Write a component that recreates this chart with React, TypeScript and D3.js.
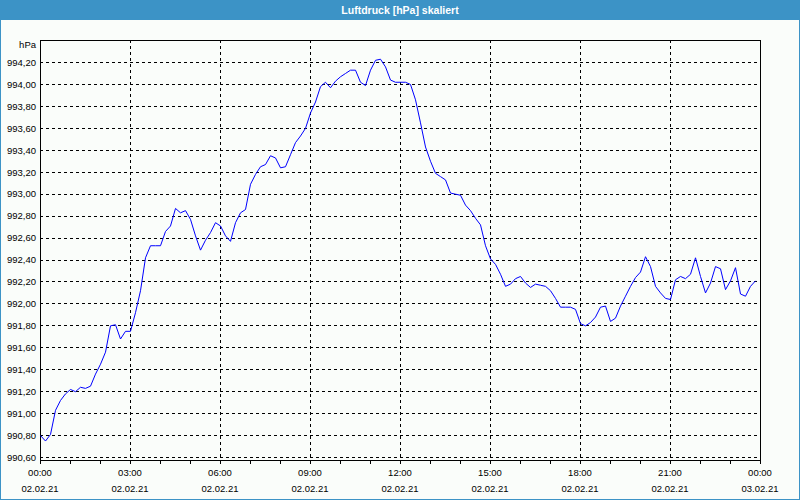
import React from "react";
import * as d3 from "d3";

const title = "Luftdruck [hPa] skaliert";
const unitLabel = "hPa";
const stepMinutes = 10;
// Luftdruck in hPa, one value per 10 minutes starting 02.02.21 00:00
const pressure = [
  990.80, 990.75, 990.81, 991.03, 991.12, 991.18, 991.22, 991.20, 991.24, 991.23,
  991.25, 991.36, 991.45, 991.56, 991.80, 991.81, 991.68, 991.75, 991.75, 991.92,
  992.12, 992.42, 992.53, 992.53, 992.53, 992.66, 992.71, 992.87, 992.83, 992.85,
  992.77, 992.62, 992.49, 992.58, 992.65, 992.74, 992.71, 992.62, 992.57, 992.74,
  992.83, 992.86, 993.09, 993.18, 993.25, 993.27, 993.35, 993.33, 993.24, 993.25,
  993.36, 993.47, 993.53, 993.60, 993.74, 993.84, 993.98, 994.02, 993.97, 994.03,
  994.07, 994.10, 994.13, 994.13, 994.02, 993.99, 994.13, 994.22, 994.23, 994.16,
  994.04, 994.02, 994.02, 994.02, 994.00, 993.86, 993.65, 993.43, 993.30, 993.19,
  993.16, 993.13, 993.01, 993.00, 992.99, 992.90, 992.85, 992.78, 992.72, 992.53,
  992.41, 992.36, 992.27, 992.16, 992.18, 992.23, 992.25, 992.19, 992.15, 992.18,
  992.17, 992.16, 992.12, 992.05, 991.97, 991.97, 991.97, 991.95, 991.82, 991.80,
  991.83, 991.88, 991.97, 991.98, 991.84, 991.87, 991.98, 992.07, 992.16, 992.24,
  992.29, 992.43, 992.34, 992.16, 992.10, 992.05, 992.04, 992.22, 992.25, 992.23,
  992.27, 992.42, 992.25, 992.10, 992.19, 992.34, 992.32, 992.13, 992.21, 992.33,
  992.09, 992.07, 992.16, 992.21,
];
const yTicks = [
  990.6, 990.8, 991.0, 991.2, 991.4, 991.6, 991.8, 992.0, 992.2, 992.4,
  992.6, 992.8, 993.0, 993.2, 993.4, 993.6, 993.8, 994.0, 994.2,
];
const xTickHours = [0, 3, 6, 9, 12, 15, 18, 21, 24];
const xTimeLabels = ["00:00", "03:00", "06:00", "09:00", "12:00", "15:00", "18:00", "21:00", "00:00"];
const xDateLabels = ["02.02.21", "02.02.21", "02.02.21", "02.02.21", "02.02.21", "02.02.21", "02.02.21", "02.02.21", "03.02.21"];
const minorHours = d3.range(0, 25);

const W = 800;
const H = 500;
const plotLeft = 40;
const plotRight = 760;
const plotTop = 40;
const plotBottom = 460;
const font = "'Liberation Sans', Arial, sans-serif";
const frameBlue = "#3c93c6";

export default function App() {
  const x = d3.scaleLinear().domain([0, 24]).range([plotLeft, plotRight]);
  const y = d3.scaleLinear().domain([990.6, 994.2]).range([457, 62]);
  const px = (v: number) => Math.round(v) + 0.5;

  const line = d3
    .line<number>()
    .x((_, i) => x((i * stepMinutes) / 60) + 0.5)
    .y((d) => y(d) + 0.5);

  const fmt = (v: number) => v.toFixed(2).replace(".", ",");

  return (
    <svg
      width={W}
      height={H}
      style={{ position: "absolute", left: 0, top: 0, background: "#fafdfa" }}
      fontFamily={font}
    >
      <rect x={0} y={0} width={W} height={H} fill="#fafdfa" />
      {/* title bar */}
      <rect x={0} y={0} width={W} height={20} fill={frameBlue} />
      <text x={W / 2} y={10} dy="0.36em" textAnchor="middle" fill="#ffffff" fontWeight="bold" fontSize={10.5}>
        {title}
      </text>
      {/* outer border */}
      <rect x={0} y={19} width={1} height={H - 19} fill={frameBlue} />
      <rect x={W - 1} y={19} width={1} height={H - 19} fill={frameBlue} />
      <rect x={0} y={H - 1} width={W} height={1} fill={frameBlue} />

      {/* horizontal grid */}
      {yTicks.map((t) => (
        <line
          key={"hg" + t}
          x1={plotLeft}
          x2={plotRight}
          y1={px(y(t))}
          y2={px(y(t))}
          stroke="#000"
          strokeWidth={1}
          strokeDasharray="3,3"
          shapeRendering="crispEdges"
        />
      ))}
      {/* vertical grid */}
      {xTickHours.slice(1, -1).map((h) => (
        <line
          key={"vg" + h}
          x1={px(x(h))}
          x2={px(x(h))}
          y1={plotTop}
          y2={plotBottom}
          stroke="#000"
          strokeWidth={1}
          strokeDasharray="3,3"
          shapeRendering="crispEdges"
        />
      ))}
      {/* frame */}
      <path
        d={`M${px(plotLeft)},${px(plotBottom)}V${px(plotTop)}H${px(plotRight)}V${px(plotBottom)}Z`}
        fill="none"
        stroke="#000"
        strokeWidth={1}
        shapeRendering="crispEdges"
      />
      {/* minor ticks */}
      {minorHours.map((h) => (
        <line
          key={"mt" + h}
          x1={px(x(h))}
          x2={px(x(h))}
          y1={plotBottom}
          y2={plotBottom + 4}
          stroke="#000"
          shapeRendering="crispEdges"
        />
      ))}
      {/* y labels */}
      {yTicks.map((t) => (
        <text key={"yl" + t} x={36} y={y(t) + 0.5} dy="0.35em" textAnchor="end" fontSize={9.5} fill="#000">
          {fmt(t)}
        </text>
      ))}
      <text x={36} y={45} dy="0.35em" textAnchor="end" fontSize={9.5} fill="#000">
        {unitLabel}
      </text>
      {/* x labels */}
      {xTickHours.map((h, i) => (
        <g key={"xl" + h}>
          <text x={x(h)} y={473} dy="0.35em" textAnchor="middle" fontSize={9.5} fill="#000">
            {xTimeLabels[i]}
          </text>
          <text x={x(h)} y={489} dy="0.35em" textAnchor="middle" fontSize={9.5} fill="#000">
            {xDateLabels[i]}
          </text>
        </g>
      ))}
      {/* data line */}
      <path d={line(pressure) || ""} fill="none" stroke="#0000ff" strokeWidth={1} />
    </svg>
  );
}
